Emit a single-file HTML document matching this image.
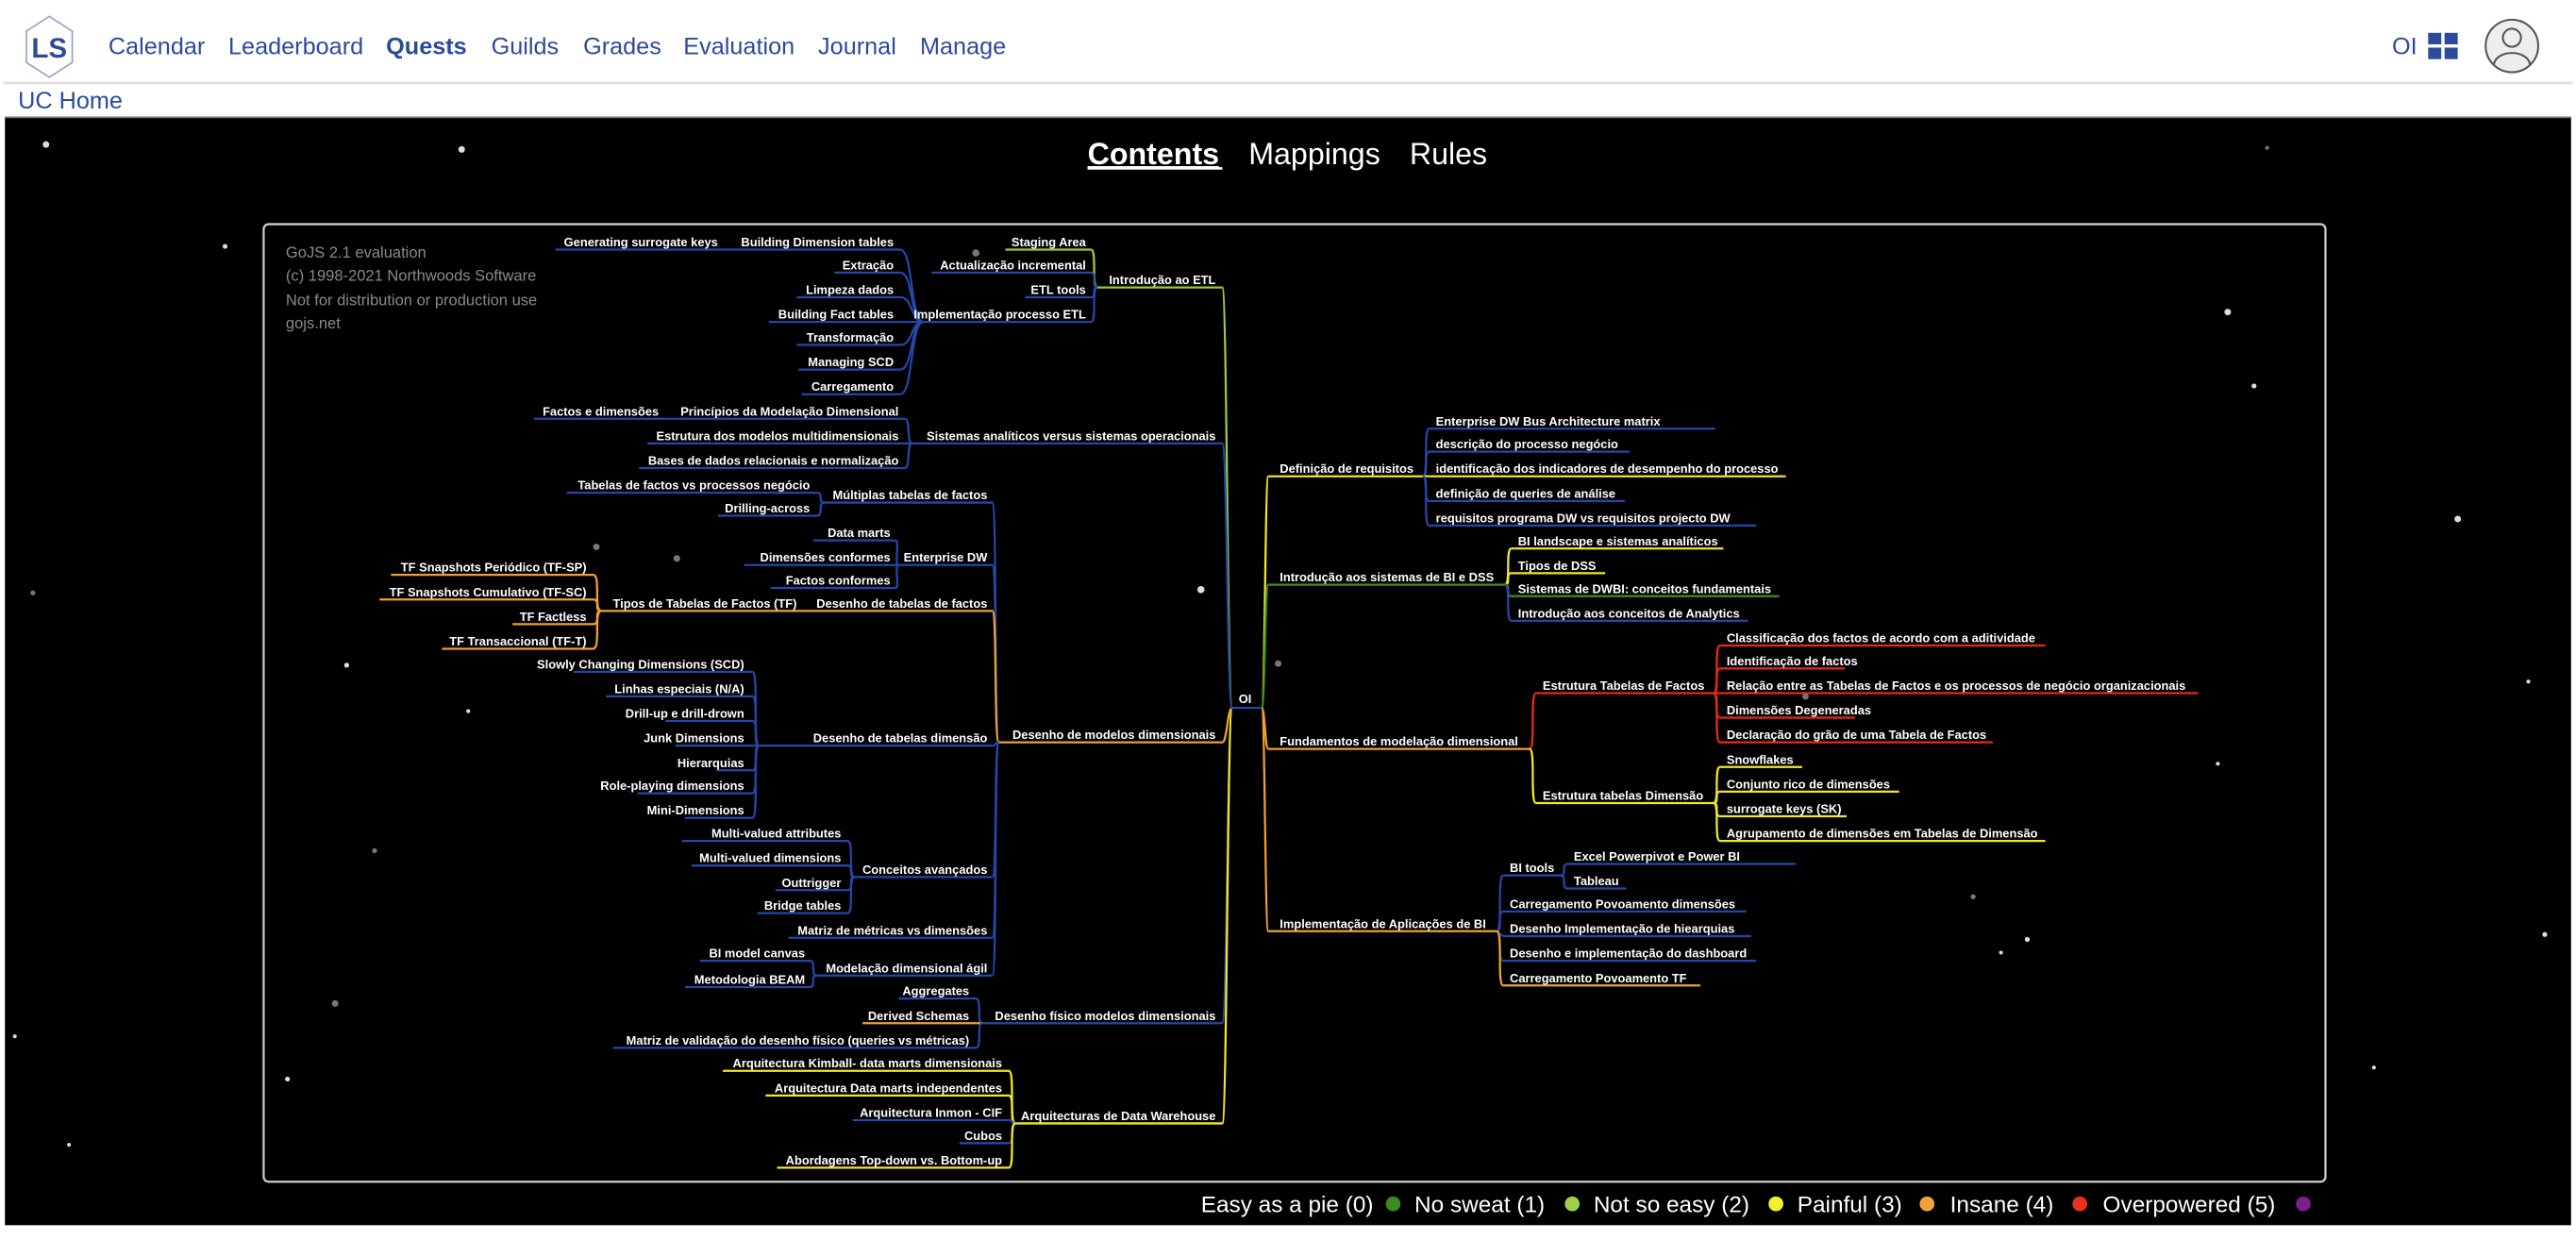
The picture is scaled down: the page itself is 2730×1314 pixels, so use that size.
<!DOCTYPE html>
<html><head><meta charset="utf-8"><style>
html,body{margin:0;padding:0;background:#fff;width:2730px;height:1314px;overflow:hidden}
svg{display:block}
.n{font-family:"Liberation Sans",sans-serif;font-weight:bold;font-size:7.4px;fill:#fff}
.e{text-anchor:end}
.l{fill:none;stroke-width:1.3}
.b{stroke:#2646a8}.y{stroke:#f2e628}.o{stroke:#f0a030}.r{stroke:#e52b1c}.g{stroke:#3f8f1f}.lm{stroke:#9ccc3a}
.nav{font-family:"Liberation Sans",sans-serif;font-size:14.5px;fill:#2c4a9c}
</style></head><body>
<svg width="2730" height="1314" viewBox="0 0 1568 755" preserveAspectRatio="none">
<rect x="0" y="0" width="1568" height="755" fill="#fff"/>
<!-- header -->
<polygon points="30,10 44,19 44,38 30,47 16,38 16,19" fill="#fff" stroke="#9aa6cc" stroke-width="1"/>
<text x="30" y="35" text-anchor="middle" font-family="Liberation Sans,sans-serif" font-weight="bold" font-size="17" fill="#2c4a9c">LS</text>
<text class="nav" x="66" y="33">Calendar</text>
<text class="nav" x="139" y="33">Leaderboard</text>
<text class="nav" x="235" y="33" font-weight="bold">Quests</text>
<text class="nav" x="299" y="33">Guilds</text>
<text class="nav" x="355" y="33">Grades</text>
<text class="nav" x="416" y="33">Evaluation</text>
<text class="nav" x="498" y="33">Journal</text>
<text class="nav" x="560" y="33">Manage</text>
<text class="nav" x="1456" y="33">OI</text>
<rect x="1478" y="20" width="8" height="7" fill="#2c4a9c"/><rect x="1488" y="20" width="8" height="7" fill="#2c4a9c"/>
<rect x="1478" y="29" width="8" height="7" fill="#2c4a9c"/><rect x="1488" y="29" width="8" height="7" fill="#2c4a9c"/>
<circle cx="1529" cy="28" r="16" fill="#eee" stroke="#555" stroke-width="1.2"/>
<circle cx="1529" cy="23" r="5.5" fill="none" stroke="#555" stroke-width="1.2"/>
<path d="M1518,39 C1520,30 1538,30 1540,39" fill="none" stroke="#555" stroke-width="1.2"/>
<line x1="2" y1="50.5" x2="1566" y2="50.5" stroke="#ddd" stroke-width="1.5"/>
<text class="nav" x="11" y="66" font-size="13.5">UC Home</text>
<!-- panel -->
<rect x="3" y="71" width="1562" height="675" fill="#000"/>
<line x1="3" y1="71.5" x2="1565" y2="71.5" stroke="#777" stroke-width="1"/>
<g fill="#ddd">
<circle cx="28" cy="88" r="2"/><circle cx="281" cy="91" r="2"/><circle cx="137" cy="150" r="1.5"/><circle cx="1356" cy="190" r="2"/><circle cx="1496" cy="316" r="2"/><circle cx="731" cy="359" r="2.2"/><circle cx="211" cy="405" r="1.5"/><circle cx="285" cy="433" r="1.2"/><circle cx="1350" cy="465" r="1.2"/><circle cx="175" cy="657" r="1.5"/><circle cx="42" cy="697" r="1.2"/><circle cx="1549" cy="569" r="1.5"/><circle cx="1445" cy="650" r="1.2"/><circle cx="1234" cy="572" r="1.5"/><circle cx="1218" cy="580" r="1.2"/><circle cx="9" cy="631" r="1.2"/><circle cx="1539" cy="415" r="1.2"/><circle cx="1372" cy="235" r="1.5"/>
</g>
<g fill="#777"><circle cx="594" cy="154" r="2.2"/><circle cx="363" cy="333" r="2"/><circle cx="412" cy="340" r="2"/><circle cx="778" cy="404" r="2"/><circle cx="1099" cy="424" r="2"/><circle cx="20" cy="361" r="1.5"/><circle cx="228" cy="518" r="1.5"/><circle cx="1201" cy="546" r="1.5"/><circle cx="204" cy="611" r="2"/><circle cx="1380" cy="90" r="1.2"/></g>
<text x="662" y="100" font-family="Liberation Sans,sans-serif" font-weight="bold" font-size="18.5" fill="#fff" text-decoration="underline">Contents</text>
<line x1="662" y1="102.5" x2="744" y2="102.5" stroke="#fff" stroke-width="1.5"/>
<text x="760" y="100" font-family="Liberation Sans,sans-serif" font-size="18.5" fill="#fff">Mappings</text>
<text x="858" y="100" font-family="Liberation Sans,sans-serif" font-size="18.5" fill="#fff">Rules</text>
<rect x="160.5" y="136.5" width="1255" height="583" rx="3" fill="none" stroke="#ccc" stroke-width="1.3"/>
<g font-family="Liberation Sans,sans-serif" font-size="9.5" fill="#8a8a8a">
<text x="174" y="157">GoJS 2.1 evaluation</text><text x="174" y="171">(c) 1998-2021 Northwoods Software</text><text x="174" y="186">Not for distribution or production use</text><text x="174" y="200">gojs.net</text></g>

<!-- links -->
<g class="l">
<!-- root left -->
<path class="lm" d="M750,431 C747,431 747,175 744,175"/>
<path class="b" d="M750,431 C747,431 747,270 744,270"/>
<path class="o" d="M750,431 C747,431 747,452 744,452"/>
<path class="b" d="M750,431 C747,431 747,623 744,623"/>
<path class="y" d="M750,431 C747,431 747,684 744,684"/>
<!-- root right -->
<path class="y" d="M768,431 C770,431 770,290 772,290"/>
<path class="g" d="M768,431 C770,431 770,356 772,356"/>
<path class="o" d="M768,431 C770,431 770,456 772,456"/>
<path class="o" d="M768,431 C770,431 770,567 772,567"/>
<!-- A -->
<path class="lm" d="M668,175 C664,175 668,152 664,152"/>
<path class="b" d="M668,175 C664,175 668,166 664,166"/>
<path class="b" d="M668,175 C664,175 668,181 664,181"/>
<path class="b" d="M668,175 C664,175 668,196 664,196"/>
<!-- Impl ETL -->
<path class="b" d="M562,196 C554,196 556,152 548,152"/>
<path class="b" d="M562,196 C554,196 556,166 548,166"/>
<path class="b" d="M562,196 C554,196 556,181 548,181"/>
<path class="b" d="M562,196 C554,196 556,196 548,196"/>
<path class="b" d="M562,196 C554,196 556,210 548,210"/>
<path class="b" d="M562,196 C554,196 556,225 548,225"/>
<path class="b" d="M562,196 C554,196 556,240 548,240"/>
<!-- B -->
<path class="b" d="M555,270 C552,270 554,255 551,255"/>
<path class="b" d="M555,270 L551,270"/>
<path class="b" d="M555,270 C552,270 554,285 551,285"/>
<!-- C -->
<path class="b" d="M608,452 C605,452 607,306 604,306"/>
<path class="b" d="M608,452 C605,452 607,344 604,344"/>
<path class="o" d="M608,452 C605,452 607,372 604,372"/>
<path class="b" d="M608,452 C605,452 607,454 604,454"/>
<path class="b" d="M608,452 C605,452 607,534 604,534"/>
<path class="b" d="M608,452 C605,452 607,571 604,571"/>
<path class="b" d="M608,452 C605,452 607,594 604,594"/>
<path class="b" d="M502,306 C497,306 502,300 497,300"/>
<path class="b" d="M502,306 C497,306 502,314 497,314"/>
<path class="b" d="M547,344 C544,344 548,329 545,329"/>
<path class="b" d="M547,344 L545,344"/>
<path class="b" d="M547,344 C544,344 548,358 545,358"/>
<path class="o" d="M366,372 C361,372 366,350 361,350"/>
<path class="o" d="M366,372 C361,372 366,365 361,365"/>
<path class="o" d="M366,372 C361,372 366,380 361,380"/>
<path class="o" d="M366,372 C361,372 366,395 361,395"/>
<path class="b" d="M462,454 C458,454 462,409 458,409"/>
<path class="b" d="M462,454 C458,454 462,424 458,424"/>
<path class="b" d="M462,454 C458,454 462,439 458,439"/>
<path class="b" d="M462,454 L458,454"/>
<path class="b" d="M462,454 C458,454 462,469 458,469"/>
<path class="b" d="M462,454 C458,454 462,483 458,483"/>
<path class="b" d="M462,454 C458,454 462,498 458,498"/>
<path class="b" d="M520,534 C516,534 520,512 516,512"/>
<path class="b" d="M520,534 C516,534 520,527 516,527"/>
<path class="b" d="M520,534 C516,534 520,542 516,542"/>
<path class="b" d="M520,534 C516,534 520,556 516,556"/>
<path class="b" d="M497,594 C493,594 497,585 493,585"/>
<path class="b" d="M497,594 C493,594 497,601 493,601"/>
<!-- D -->
<path class="b" d="M598,623 C594,623 598,608 594,608"/>
<path class="o" d="M598,623 L594,623"/>
<path class="b" d="M598,623 C594,623 598,638 594,638"/>
<!-- E -->
<path class="y" d="M618,684 C614,684 618,652 614,652"/>
<path class="y" d="M618,684 C614,684 618,667 614,667"/>
<path class="b" d="M618,684 C614,684 618,682 614,682"/>
<path class="b" d="M618,684 C614,684 618,696 614,696"/>
<path class="y" d="M618,684 C614,684 618,711 614,711"/>
<!-- F -->
<path class="b" d="M866,290 C870,290 866,261 870,261"/>
<path class="b" d="M866,290 C870,290 866,275 870,275"/>
<path class="y" d="M866,290 L870,290"/>
<path class="b" d="M866,290 C870,290 866,305 870,305"/>
<path class="b" d="M866,290 C870,290 866,320 870,320"/>
<!-- G -->
<path class="y" d="M916,356 C920,356 916,334 920,334"/>
<path class="y" d="M916,356 C920,356 916,349 920,349"/>
<path class="g" d="M916,356 C920,356 916,363 920,363"/>
<path class="b" d="M916,356 C920,356 916,378 920,378"/>
<!-- H -->
<path class="r" d="M931,456 C935,456 931,422 935,422"/>
<path class="y" d="M931,456 C935,456 931,489 935,489"/>
<path class="r" d="M1043,422 C1047,422 1043,393 1047,393"/>
<path class="r" d="M1043,422 C1047,422 1043,407 1047,407"/>
<path class="r" d="M1043,422 L1047,422"/>
<path class="r" d="M1043,422 C1047,422 1043,437 1047,437"/>
<path class="r" d="M1043,422 C1047,422 1043,452 1047,452"/>
<path class="y" d="M1043,489 C1047,489 1043,467 1047,467"/>
<path class="y" d="M1043,489 C1047,489 1043,482 1047,482"/>
<path class="y" d="M1043,489 C1047,489 1043,497 1047,497"/>
<path class="y" d="M1043,489 C1047,489 1043,512 1047,512"/>
<!-- I -->
<path class="b" d="M911,567 C915,567 911,533 915,533"/>
<path class="b" d="M911,567 C915,567 911,555 915,555"/>
<path class="b" d="M911,567 L915,570"/>
<path class="b" d="M911,567 C915,567 911,585 915,585"/>
<path class="o" d="M911,567 C915,567 911,600 915,600"/>
<path class="b" d="M950,533 C954,533 950,526 954,526"/>
<path class="b" d="M950,533 C954,533 950,541 954,541"/>
</g>

<!-- underlines -->
<g class="l">
<line class="lm" x1="668" y1="175" x2="744" y2="175"/>
<line class="b" x1="555" y1="270" x2="744" y2="270"/>
<line class="o" x1="608" y1="452" x2="744" y2="452"/>
<line class="b" x1="598" y1="623" x2="744" y2="623"/>
<line class="y" x1="618" y1="684" x2="744" y2="684"/>
<line class="b" x1="749" y1="431" x2="768" y2="431"/>
<line class="lm" x1="612" y1="152" x2="664" y2="152"/>
<line class="b" x1="567" y1="166" x2="664" y2="166"/>
<line class="b" x1="624" y1="181" x2="664" y2="181"/>
<line class="b" x1="562" y1="196" x2="664" y2="196"/>
<line class="b" x1="338" y1="152" x2="548" y2="152"/>
<line class="b" x1="508" y1="166" x2="548" y2="166"/>
<line class="b" x1="485" y1="181" x2="548" y2="181"/>
<line class="b" x1="468" y1="196" x2="548" y2="196"/>
<line class="b" x1="485" y1="210" x2="548" y2="210"/>
<line class="b" x1="486" y1="225" x2="548" y2="225"/>
<line class="b" x1="488" y1="240" x2="548" y2="240"/>
<line class="b" x1="325" y1="255" x2="551" y2="255"/>
<line class="b" x1="394" y1="270" x2="551" y2="270"/>
<line class="b" x1="389" y1="285" x2="551" y2="285"/>
<line class="b" x1="502" y1="306" x2="604" y2="306"/>
<line class="b" x1="345" y1="300" x2="497" y2="300"/>
<line class="b" x1="437" y1="314" x2="497" y2="314"/>
<line class="b" x1="547" y1="344" x2="604" y2="344"/>
<line class="b" x1="495" y1="329" x2="545" y2="329"/>
<line class="b" x1="453" y1="344" x2="545" y2="344"/>
<line class="b" x1="469" y1="358" x2="545" y2="358"/>
<line class="o" x1="366" y1="372" x2="604" y2="372"/>
<line class="o" x1="238" y1="350" x2="361" y2="350"/>
<line class="o" x1="231" y1="365" x2="361" y2="365"/>
<line class="o" x1="312" y1="380" x2="361" y2="380"/>
<line class="o" x1="269" y1="395" x2="361" y2="395"/>
<line class="b" x1="462" y1="454" x2="604" y2="454"/>
<line class="b" x1="349" y1="409" x2="458" y2="409"/>
<line class="b" x1="369" y1="424" x2="458" y2="424"/>
<line class="b" x1="405" y1="439" x2="458" y2="439"/>
<line class="b" x1="411" y1="454" x2="458" y2="454"/>
<line class="b" x1="436" y1="469" x2="458" y2="469"/>
<line class="b" x1="388" y1="483" x2="458" y2="483"/>
<line class="b" x1="417" y1="498" x2="458" y2="498"/>
<line class="b" x1="520" y1="534" x2="604" y2="534"/>
<line class="b" x1="415" y1="512" x2="516" y2="512"/>
<line class="b" x1="421" y1="527" x2="516" y2="527"/>
<line class="b" x1="472" y1="542" x2="516" y2="542"/>
<line class="b" x1="461" y1="556" x2="516" y2="556"/>
<line class="b" x1="480" y1="571" x2="604" y2="571"/>
<line class="b" x1="497" y1="594" x2="604" y2="594"/>
<line class="b" x1="426" y1="585" x2="493" y2="585"/>
<line class="b" x1="417" y1="601" x2="493" y2="601"/>
<line class="b" x1="547" y1="608" x2="594" y2="608"/>
<line class="o" x1="525" y1="623" x2="594" y2="623"/>
<line class="b" x1="373" y1="638" x2="594" y2="638"/>
<line class="y" x1="440" y1="652" x2="614" y2="652"/>
<line class="y" x1="466" y1="667" x2="614" y2="667"/>
<line class="b" x1="519" y1="682" x2="614" y2="682"/>
<line class="b" x1="584" y1="696" x2="614" y2="696"/>
<line class="y" x1="473" y1="711" x2="614" y2="711"/>
<line class="y" x1="772" y1="290" x2="866" y2="290"/>
<line class="g" x1="772" y1="356" x2="916" y2="356"/>
<line class="o" x1="772" y1="456" x2="931" y2="456"/>
<line class="o" x1="772" y1="567" x2="911" y2="567"/>
<line class="b" x1="870" y1="261" x2="1044" y2="261"/>
<line class="b" x1="870" y1="275" x2="992" y2="275"/>
<line class="y" x1="870" y1="290" x2="1087" y2="290"/>
<line class="b" x1="870" y1="305" x2="989" y2="305"/>
<line class="b" x1="870" y1="320" x2="1069" y2="320"/>
<line class="y" x1="920" y1="334" x2="1049" y2="334"/>
<line class="y" x1="920" y1="349" x2="977" y2="349"/>
<line class="g" x1="920" y1="363" x2="1083" y2="363"/>
<line class="b" x1="920" y1="378" x2="1064" y2="378"/>
<line class="r" x1="935" y1="422" x2="1043" y2="422"/>
<line class="y" x1="935" y1="489" x2="1043" y2="489"/>
<line class="r" x1="1047" y1="393" x2="1245" y2="393"/>
<line class="r" x1="1047" y1="407" x2="1123" y2="407"/>
<line class="r" x1="1047" y1="422" x2="1338" y2="422"/>
<line class="r" x1="1047" y1="437" x2="1129" y2="437"/>
<line class="r" x1="1047" y1="452" x2="1213" y2="452"/>
<line class="y" x1="1047" y1="467" x2="1097" y2="467"/>
<line class="y" x1="1047" y1="482" x2="1156" y2="482"/>
<line class="y" x1="1047" y1="497" x2="1124" y2="497"/>
<line class="y" x1="1047" y1="512" x2="1245" y2="512"/>
<line class="b" x1="915" y1="533" x2="950" y2="533"/>
<line class="b" x1="954" y1="526" x2="1093" y2="526"/>
<line class="b" x1="954" y1="541" x2="990" y2="541"/>
<line class="b" x1="915" y1="555" x2="1063" y2="555"/>
<line class="b" x1="915" y1="570" x2="1066" y2="570"/>
<line class="b" x1="915" y1="585" x2="1069" y2="585"/>
<line class="o" x1="915" y1="600" x2="1035" y2="600"/>
</g>

<!-- labels -->
<g class="n">
<text x="754" y="428">OI</text>
<g class="e">
<text x="740" y="173">Introdução ao ETL</text>
<text x="740" y="268">Sistemas analíticos versus sistemas operacionais</text>
<text x="740" y="450">Desenho de modelos dimensionais</text>
<text x="740" y="621">Desenho físico modelos dimensionais</text>
<text x="740" y="682">Arquitecturas de Data Warehouse</text>
<text x="661" y="150">Staging Area</text>
<text x="661" y="164">Actualização incremental</text>
<text x="661" y="179">ETL tools</text>
<text x="661" y="194">Implementação processo ETL</text>
<text x="544" y="150">Building Dimension tables</text>
<text x="437" y="150">Generating surrogate keys</text>
<text x="544" y="164">Extração</text>
<text x="544" y="179">Limpeza dados</text>
<text x="544" y="194">Building Fact tables</text>
<text x="544" y="208">Transformação</text>
<text x="544" y="223">Managing SCD</text>
<text x="544" y="238">Carregamento</text>
<text x="547" y="253">Princípios da Modelação Dimensional</text>
<text x="401" y="253">Factos e dimensões</text>
<text x="547" y="268">Estrutura dos modelos multidimensionais</text>
<text x="547" y="283">Bases de dados relacionais e normalização</text>
<text x="601" y="304">Múltiplas tabelas de factos</text>
<text x="493" y="298">Tabelas de factos vs processos negócio</text>
<text x="493" y="312">Drilling-across</text>
<text x="601" y="342">Enterprise DW</text>
<text x="542" y="327">Data marts</text>
<text x="542" y="342">Dimensões conformes</text>
<text x="542" y="356">Factos conformes</text>
<text x="601" y="370">Desenho de tabelas de factos</text>
<text x="485" y="370">Tipos de Tabelas de Factos (TF)</text>
<text x="357" y="348">TF Snapshots Periódico (TF-SP)</text>
<text x="357" y="363">TF Snapshots Cumulativo (TF-SC)</text>
<text x="357" y="378">TF Factless</text>
<text x="357" y="393">TF Transaccional (TF-T)</text>
<text x="601" y="452">Desenho de tabelas dimensão</text>
<text x="453" y="407">Slowly Changing Dimensions (SCD)</text>
<text x="453" y="422">Linhas especiais (N/A)</text>
<text x="453" y="437">Drill-up e drill-drown</text>
<text x="453" y="452">Junk Dimensions</text>
<text x="453" y="467">Hierarquias</text>
<text x="453" y="481">Role-playing dimensions</text>
<text x="453" y="496">Mini-Dimensions</text>
<text x="601" y="532">Conceitos avançados</text>
<text x="512" y="510">Multi-valued attributes</text>
<text x="512" y="525">Multi-valued dimensions</text>
<text x="512" y="540">Outtrigger</text>
<text x="512" y="554">Bridge tables</text>
<text x="601" y="569">Matriz de métricas vs dimensões</text>
<text x="601" y="592">Modelação dimensional ágil</text>
<text x="490" y="583">BI model canvas</text>
<text x="490" y="599">Metodologia BEAM</text>
<text x="590" y="606">Aggregates</text>
<text x="590" y="621">Derived Schemas</text>
<text x="590" y="636">Matriz de validação do desenho físico (queries vs métricas)</text>
<text x="610" y="650">Arquitectura Kimball- data marts dimensionais</text>
<text x="610" y="665">Arquitectura Data marts independentes</text>
<text x="610" y="680">Arquitectura Inmon - CIF</text>
<text x="610" y="694">Cubos</text>
<text x="610" y="709">Abordagens Top-down vs. Bottom-up</text>
</g>
<text x="779" y="288">Definição de requisitos</text>
<text x="779" y="354">Introdução aos sistemas de BI e DSS</text>
<text x="779" y="454">Fundamentos de modelação dimensional</text>
<text x="779" y="565">Implementação de Aplicações de BI</text>
<text x="874" y="259">Enterprise DW Bus Architecture matrix</text>
<text x="874" y="273">descrição do processo negócio</text>
<text x="874" y="288">identificação dos indicadores de desempenho do processo</text>
<text x="874" y="303">definição de queries de análise</text>
<text x="874" y="318">requisitos programa DW vs requisitos projecto DW</text>
<text x="924" y="332">BI landscape e sistemas analíticos</text>
<text x="924" y="347">Tipos de DSS</text>
<text x="924" y="361">Sistemas de DWBI: conceitos fundamentais</text>
<text x="924" y="376">Introdução aos conceitos de Analytics</text>
<text x="939" y="420">Estrutura Tabelas de Factos</text>
<text x="939" y="487">Estrutura tabelas Dimensão</text>
<text x="1051" y="391">Classificação dos factos de acordo com a aditividade</text>
<text x="1051" y="405">Identificação de factos</text>
<text x="1051" y="420">Relação entre as Tabelas de Factos e os processos de negócio organizacionais</text>
<text x="1051" y="435">Dimensões Degeneradas</text>
<text x="1051" y="450">Declaração do grão de uma Tabela de Factos</text>
<text x="1051" y="465">Snowflakes</text>
<text x="1051" y="480">Conjunto rico de dimensões</text>
<text x="1051" y="495">surrogate keys (SK)</text>
<text x="1051" y="510">Agrupamento de dimensões em Tabelas de Dimensão</text>
<text x="919" y="531">BI tools</text>
<text x="958" y="524">Excel Powerpivot e Power BI</text>
<text x="958" y="539">Tableau</text>
<text x="919" y="553">Carregamento Povoamento dimensões</text>
<text x="919" y="568">Desenho Implementação de hiearquias</text>
<text x="919" y="583">Desenho e implementação do dashboard</text>
<text x="919" y="598">Carregamento Povoamento  TF</text>
</g>

<!-- legend -->
<g font-family="Liberation Sans,sans-serif" font-size="14" fill="#fff">
<text x="731" y="738">Easy as a pie (0)</text><circle cx="848" cy="733" r="4.5" fill="#3c8a22"/>
<text x="861" y="738">No sweat (1)</text><circle cx="957" cy="733" r="4.5" fill="#9fcf4a"/>
<text x="970" y="738">Not so easy (2)</text><circle cx="1081" cy="733" r="4.5" fill="#f6ef2e"/>
<text x="1094" y="738">Painful (3)</text><circle cx="1173" cy="733" r="4.5" fill="#f3a23a"/>
<text x="1187" y="738">Insane (4)</text><circle cx="1266" cy="733" r="4.5" fill="#e8321e"/>
<text x="1280" y="738">Overpowered (5)</text><circle cx="1402" cy="733" r="4.5" fill="#7b1f8a"/>
</g>
</svg>
</body></html>
